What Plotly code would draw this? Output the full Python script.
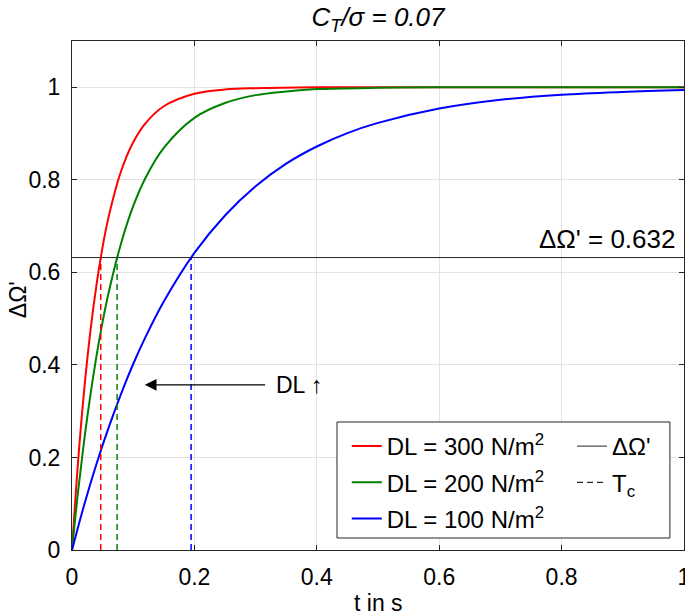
import plotly.graph_objects as go

# ---- data ----
t_red = [0, 0.01, 0.02, 0.03, 0.04, 0.05, 0.06, 0.08, 0.10, 0.12, 0.15, 0.20, 0.25, 0.30, 0.40, 0.60, 0.80, 1.0]
y_red = [0, 0.192, 0.347, 0.472, 0.573, 0.655, 0.721, 0.818, 0.881, 0.922, 0.959, 0.986, 0.995, 0.998, 1.0, 1.0, 1.0, 1.0]

t_green = [0, 0.01, 0.02, 0.03, 0.04, 0.05, 0.06, 0.08, 0.10, 0.12, 0.15, 0.20, 0.25, 0.30, 0.35, 0.40, 0.50, 0.60, 0.80, 1.0]
y_green = [0, 0.127, 0.238, 0.334, 0.419, 0.493, 0.557, 0.662, 0.743, 0.804, 0.869, 0.934, 0.966, 0.983, 0.991, 0.996, 0.999, 1.0, 1.0, 1.0]

t_blue = [0, 0.02, 0.04, 0.06, 0.08, 0.10, 0.12, 0.15, 0.20, 0.25, 0.30, 0.35, 0.40, 0.45, 0.50, 0.60, 0.70, 0.80, 0.90, 1.0]
y_blue = [0, 0.098, 0.186, 0.265, 0.337, 0.402, 0.460, 0.537, 0.642, 0.723, 0.786, 0.835, 0.872, 0.901, 0.923, 0.954, 0.973, 0.984, 0.990, 0.994]

series_names = ["DL = 300 N/m<sup>2</sup>", "DL = 200 N/m<sup>2</sup>", "DL = 100 N/m<sup>2</sup>"]
series_colors = ["#ff0000", "#008000", "#0000ff"]
tc_values = [0.047, 0.0737, 0.1946]
level = 0.632

tick_vals_x = [0, 0.2, 0.4, 0.6, 0.8, 1.0]
tick_text_x = ["0", "0.2", "0.4", "0.6", "0.8", "1"]
tick_vals_y = [0, 0.2, 0.4, 0.6, 0.8, 1.0]
tick_text_y = ["0", "0.2", "0.4", "0.6", "0.8", "1"]

FONT = "Liberation Sans, Arial, Helvetica, sans-serif"
AX = "#262626"
FS = 23
FL = 24

fig = go.Figure()

curves = [(t_red, y_red), (t_green, y_green), (t_blue, y_blue)]
for (tx, ty), name, col in zip(curves, series_names, series_colors):
    fig.add_trace(go.Scatter(x=tx, y=ty, mode="lines", name=name,
                             line=dict(color=col, width=2, shape="spline", smoothing=1.0),
                             legend="legend", legendgroup=name))

# horizontal level line
fig.add_trace(go.Scatter(x=[0, 1], y=[level, level], mode="lines", name="ΔΩ'",
                         line=dict(color=AX, width=1), legend="legend2", legendgroup="lvl"))

# T_c dashed verticals
for tc, col in zip(tc_values, series_colors):
    fig.add_trace(go.Scatter(x=[tc, tc], y=[0, level], mode="lines", showlegend=False,
                             line=dict(color=col, width=1.5, dash="6px,4px")))

# legend entry for T_c
fig.add_trace(go.Scatter(x=[None], y=[None], mode="lines", name="T<sub>c</sub>",
                         line=dict(color=AX, width=1.2, dash="6px,4px"),
                         legend="legend2", legendgroup="tc"))

axis_common = dict(showline=True, linecolor=AX, linewidth=1, mirror="ticks",
                   ticks="inside", ticklen=5, tickcolor=AX, showgrid=True,
                   gridcolor="#e3e3e3", gridwidth=1, zeroline=False, automargin=False,
                   ticklabelstandoff=6, ticklabeloverflow="allow",
                   tickfont=dict(size=FS, color="#000000", family=FONT))

fig.update_layout(
    width=685, height=616,
    margin=dict(l=72, r=1, t=41, b=66),
    paper_bgcolor="white", plot_bgcolor="white",
    font=dict(family=FONT, color="#000000"),
    title=dict(text="<i>C<sub>T</sub>/σ = 0.07</i>", x=0.5, xref="paper", xanchor="center",
               y=0.987, yanchor="top", font=dict(size=26)),
    xaxis=dict(range=[0, 1], tickvals=tick_vals_x, ticktext=tick_text_x, **axis_common),
    yaxis=dict(range=[0, 1.1], tickvals=tick_vals_y, ticktext=tick_text_y, **axis_common),
    legend=dict(x=0.449, y=0.2475, xanchor="left", yanchor="top", bgcolor="rgba(0,0,0,0)",
                borderwidth=0, font=dict(size=FL), tracegroupgap=2, itemwidth=30),
    legend2=dict(x=0.817, y=0.2475, xanchor="left", yanchor="top", bgcolor="rgba(0,0,0,0)",
                 borderwidth=0, font=dict(size=FL), tracegroupgap=2, itemwidth=30),
    shapes=[dict(type="rect", xref="paper", yref="paper", x0=0.433, x1=0.977, y0=0.0236, y1=0.2515,
                 line=dict(color=AX, width=1), fillcolor="white", layer="above")],
    annotations=[
        dict(x=0.5, y=-0.104, xref="paper", yref="paper", text="t in s", showarrow=False,
             xanchor="center", yanchor="middle", font=dict(size=FS)),
        dict(x=-0.088, y=0.491, xref="paper", yref="paper", text="ΔΩ'", showarrow=False,
             textangle=-90, xanchor="center", yanchor="middle", font=dict(size=FS)),
        dict(x=0.989, y=level, xref="x", yref="y", text="ΔΩ' = 0.632", showarrow=False,
             xanchor="right", yanchor="bottom", yshift=2, font=dict(size=26)),
        dict(x=0.119, y=0.357, xref="x", yref="y", ax=0.318, ay=0.357, axref="x", ayref="y",
             text="", showarrow=True, arrowhead=2, arrowsize=1.8, arrowwidth=1.3, arrowcolor="#000000"),
        dict(x=0.330, y=0.357, xref="x", yref="y", text="DL ↑", showarrow=False,
             xanchor="left", yanchor="middle", font=dict(size=FS)),
    ],
)

fig.write_html("out.html", config={"displayModeBar": False},
               post_script="document.body.style.margin='0px';")
